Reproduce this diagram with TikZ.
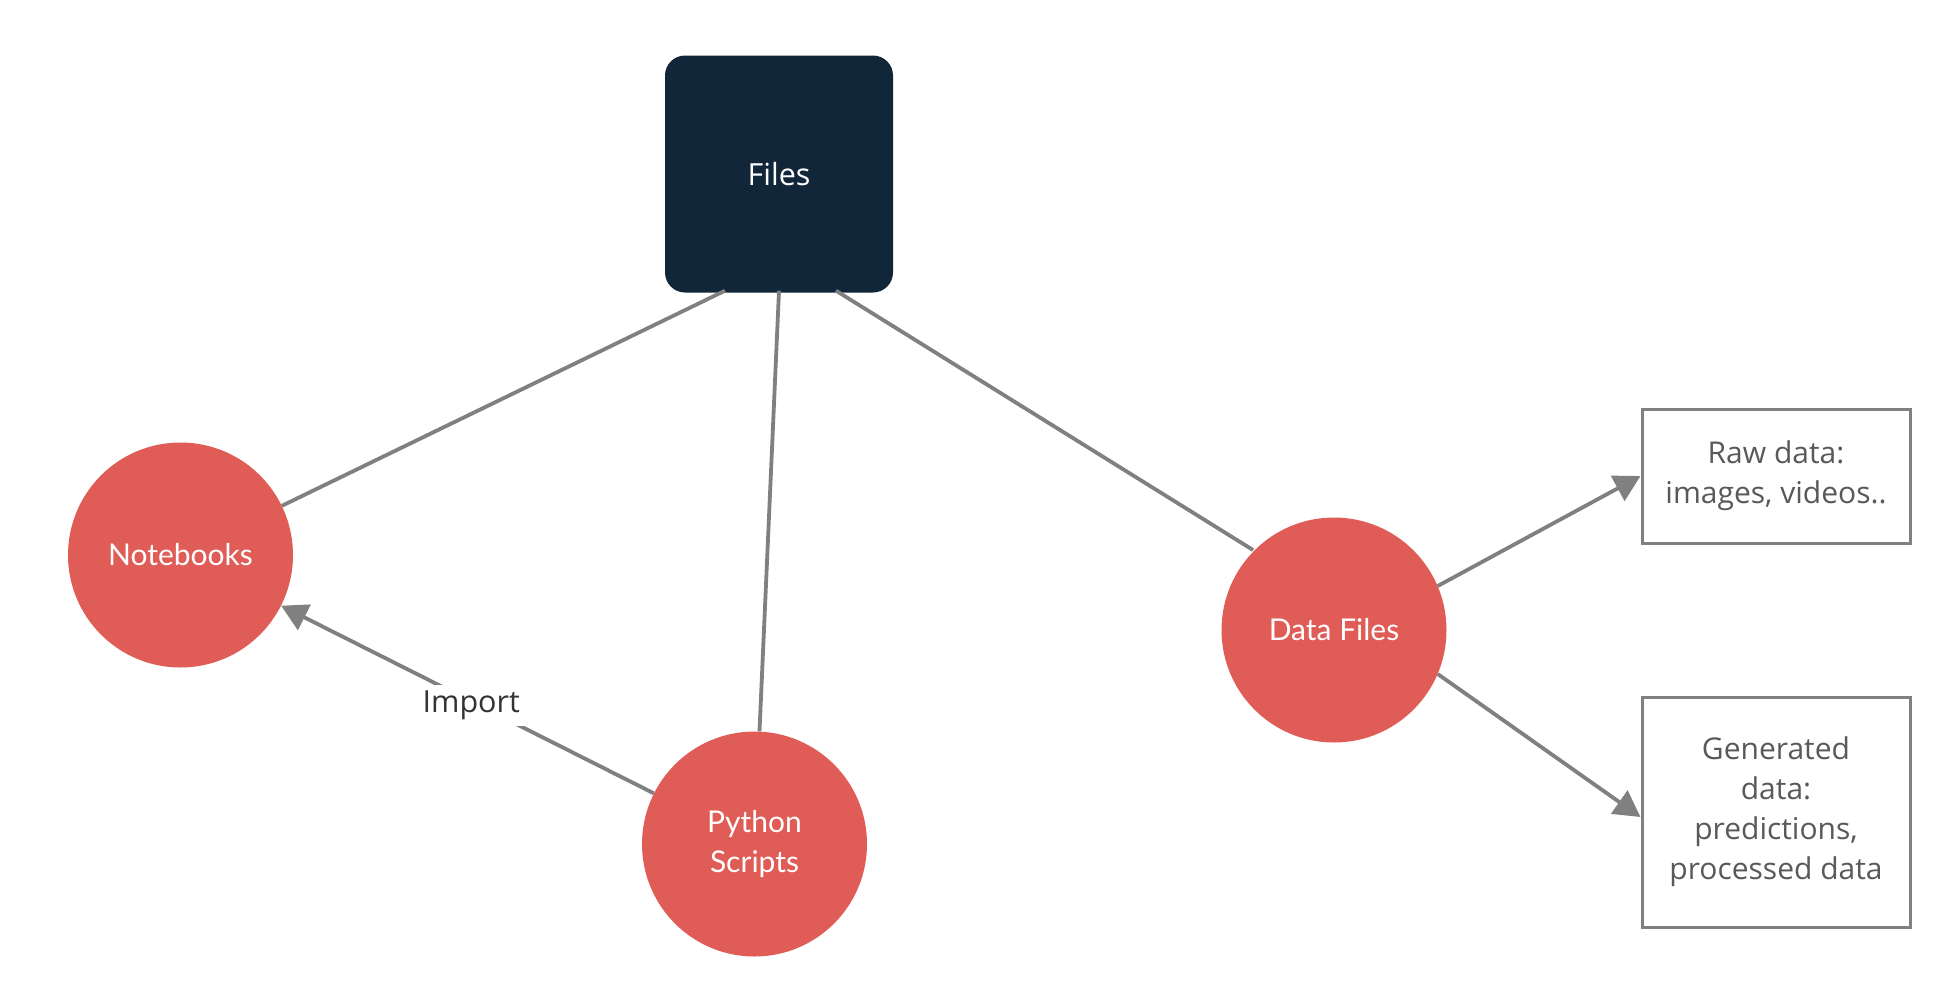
\documentclass[tikz,border=0pt]{standalone}
\usepackage{fontspec}
\setmainfont{Open Sans}
\newfontfamily\latofont{Lato}
\usetikzlibrary{arrows.meta,calc}
\definecolor{navy}{HTML}{12263A}
\definecolor{coral}{HTML}{E05C57}
\definecolor{edgegray}{HTML}{808080}
\definecolor{textgray}{HTML}{595959}
\definecolor{labelgray}{HTML}{333333}
\begin{document}
\begin{tikzpicture}[x=1pt,y=-1pt,
 circ/.style={circle, fill=coral, minimum size=225pt, inner sep=0pt, text=white, font=\latofont\fontsize{30}{40}\selectfont, align=center},
 filebox/.style={rounded corners=20pt, fill=navy, minimum width=228pt, minimum height=237pt, inner sep=0pt, text=white, font=\fontsize{30.5}{40}\selectfont},
 infobox/.style={draw=edgegray, line width=3pt, minimum width=268pt, inner sep=0pt, text=textgray, font=\fontsize{30}{40}\selectfont, align=center},
 conn/.style={draw=edgegray, line width=3.8pt},
 arr/.style={conn, -{Triangle[length=26pt,width=28pt]}},
 lbl/.style={fill=white, text=labelgray, font=\fontsize{30.5}{34}\selectfont, inner sep=6pt}]
\fill[white] (0,0) rectangle (1946,994);
\useasboundingbox (0,0) rectangle (1946,994);

\node[filebox] (files) at (779,174) {Files};
\node[circ] (nb) at (180.5,555) {\raisebox{-2pt}{Notebooks}};
\node[circ] (py) at (754.5,844) {Python\\Scripts};
\node[circ] (df) at (1334,630) {\raisebox{-2pt}{Data Files}};
\node[infobox, minimum height=134pt] (raw) at (1776,476) {Raw data:\\images, videos..};
\node[infobox, minimum height=230pt] (gen) at (1776,812) {Generated\\data:\\predictions,\\processed data};

\coordinate (fl) at ($(files.south)+(-54,-2)$);
\coordinate (fm) at ($(files.south)+(0,-2)$);
\coordinate (fr) at ($(files.south)+(57,-2)$);
\coordinate (dft) at (1253,550);
\coordinate (genin) at ($(gen.west)+(0,5)$);

\draw[conn] (fl) -- (nb);
\draw[conn] (fm) -- (py);
\draw[conn] (fr) -- (dft);
\draw[arr] (py) -- node[lbl, pos=0.49, yshift=-4pt] (imp) {Import} (nb);
\draw[arr] (df.23) -- (raw.west);
\draw[arr] (df.-23) -- (genin);
\end{tikzpicture}
\end{document}
